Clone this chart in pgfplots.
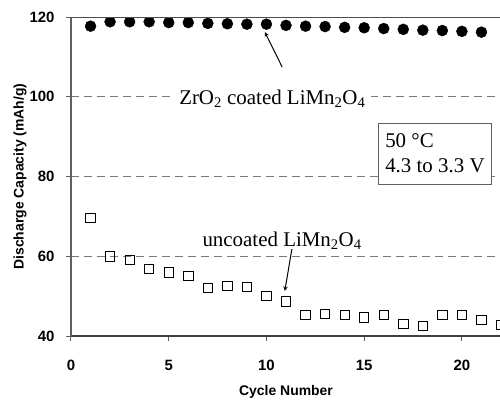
\documentclass[border=0pt]{standalone}
\usepackage{fontspec}
\setmainfont{Liberation Sans}
\newfontfamily\tnr{Liberation Serif}
\usepackage{pgfplots}
\pgfplotsset{compat=1.18}
\definecolor{axgray}{HTML}{606060}
\definecolor{gridgray}{HTML}{7A7A7A}
\begin{document}
\begin{tikzpicture}
\begin{axis}[
    at={(0,0)}, anchor=south west,
    scale only axis,
    width=430bp, height=319bp,
    xmin=0, xmax=22, ymin=40, ymax=120,
    xtick={0,5,10,15,20}, ytick={40,60,80,100,120},
    axis x line*=bottom, axis y line*=left,
    x axis line style={draw=black!75, line width=1.2bp, -},
    y axis line style={draw=axgray, line width=1.2bp, -},
    tick align=outside, major tick length=5bp,
    every tick/.style={line width=1bp, draw=axgray},
    ymajorgrids, grid style={dashed, dash pattern=on 8bp off 5bp, gridgray, line width=0.9bp},
    /pgf/number format/assume math mode=true,
    tick label style={font=\fontsize{15}{18}\selectfont\bfseries},
    xticklabel style={yshift=-16bp},
    yticklabel style={xshift=-8bp},
    xlabel={Cycle Number}, ylabel={Discharge Capacity (mAh/g)},
    label style={font=\fontsize{14}{16}\selectfont\bfseries},
    xlabel style={at={(axis description cs:0.5,-0.1755)}, anchor=center},
    ylabel style={at={(axis description cs:-0.1186,0.5)}, anchor=center},
    clip marker paths=true,
]
\addplot[only marks, mark=*, mark size=5.5bp, mark options={fill=black, draw=black}] coordinates {
(1,117.7) (2,118.8) (3,118.8) (4,118.8) (5,118.6) (6,118.6) (7,118.4) (8,118.3) (9,118.2) (10,118.2)
(11,117.9) (12,117.7) (13,117.6) (14,117.4) (15,117.3) (16,117.1) (17,116.9) (18,116.7) (19,116.6) (20,116.4) (21,116.2)};
\addplot[only marks, mark=square, mark size=4.7bp, mark options={fill=white, draw=black, line width=0.8bp}] coordinates {
(1,69.6) (2,60.0) (3,59.1) (4,56.8) (5,55.9) (6,55.1) (7,52.0) (8,52.6) (9,52.3) (10,50.1) (11,48.7)
(12,45.3) (13,45.5) (14,45.3) (15,44.7) (16,45.3) (17,43.0) (18,42.5) (19,45.3) (20,45.3) (21,44.1) (22,42.8)};
\draw[gray!60!black, line width=0.8bp] (rel axis cs:0,1) -- (rel axis cs:1,1);
\node[fill=white, inner xsep=6bp, inner ysep=1bp, font=\tnr\fontsize{21}{25}\selectfont] at (axis cs:10.3,99.6) {ZrO\textsubscript{2} coated LiMn\textsubscript{2}O\textsubscript{4}};
\draw[-stealth, line width=1bp] (axis cs:10.8,107.5) -- (axis cs:9.92,116.2);
\node[inner sep=1bp, font=\tnr\fontsize{21}{25}\selectfont] at (axis cs:10.8,64.0) {uncoated LiMn\textsubscript{2}O\textsubscript{4}};
\draw[-stealth, line width=1bp] (axis cs:11.3,61.8) -- (axis cs:10.94,51.3);
\node[draw=axgray, line width=0.8bp, fill=white, align=left, anchor=north west, inner xsep=7bp, inner ysep=11bp, font=\tnr\fontsize{21}{25}\selectfont] at (axis cs:15.7,93.5) {50 °C\\4.3 to 3.3 V};
\end{axis}
\pgfresetboundingbox
\path[use as bounding box] (-71bp,-64bp) rectangle (429bp,336bp);
\end{tikzpicture}
\end{document}
